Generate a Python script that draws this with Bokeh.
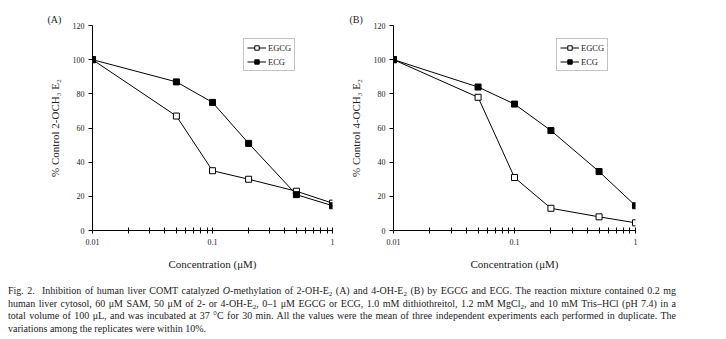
from bokeh.plotting import figure
from bokeh.models import (Range1d, FixedTicker, Legend, LegendItem, Div)
from bokeh.layouts import column, row
from bokeh.embed import file_html
from bokeh.resources import INLINE

conc = [0.01, 0.05, 0.1, 0.2, 0.5, 1.0]
a_egcg = [100, 67, 35, 30, 23, 16]
a_ecg = [100, 87, 75, 51, 21, 14.5]
b_egcg = [100, 78, 31, 13, 8, 4.5]
b_ecg = [100, 84, 74, 58.5, 34.5, 14.5]
y_ticks = [0, 20, 40, 60, 80, 100, 120]
x_major = [0.01, 0.1, 1.0]
x_minor = [0.02, 0.03, 0.04, 0.05, 0.06, 0.07, 0.08, 0.09,
           0.2, 0.3, 0.4, 0.5, 0.6, 0.7, 0.8, 0.9]
x_labels = {0.01: "0.01", 0.1: "0.1", 1: "1"}

FONT = "Liberation Serif"


def panel(tag, ylab, egcg, ecg, w, bl, br, leg_x, tag_off):
    p = figure(width=w, height=275, x_axis_type="log",
               x_range=Range1d(0.01, 1.0), y_range=Range1d(0, 120),
               output_backend="svg", toolbar_location=None,
               min_border_left=bl, min_border_right=br,
               min_border_top=25, min_border_bottom=45)
    p.outline_line_color = None
    p.xgrid.grid_line_color = None
    p.ygrid.grid_line_color = None
    p.background_fill_color = "white"
    p.border_fill_color = "white"

    p.title.text = tag
    p.title.align = "left"
    p.title.offset = tag_off
    p.title.standoff = 2
    p.title.text_font = FONT
    p.title.text_font_size = "10px"
    p.title.text_font_style = "normal"
    p.title.text_color = "#222222"

    xa = p.xaxis[0]
    xa.ticker = FixedTicker(ticks=x_major, minor_ticks=x_minor)
    xa.major_label_overrides = x_labels
    xa.major_tick_in = 3
    xa.major_tick_out = 3
    xa.minor_tick_in = 3
    xa.minor_tick_out = 3
    xa.major_label_standoff = 5
    xa.axis_label = "Concentration (μM)"
    xa.axis_label_standoff = 10

    ya = p.yaxis[0]
    ya.ticker = FixedTicker(ticks=y_ticks, minor_ticks=[])
    ya.major_tick_in = 0
    ya.major_tick_out = 4
    ya.major_label_standoff = 4
    ya.axis_label = ylab
    ya.axis_label_standoff = 9

    for ax in (xa, ya):
        ax.axis_line_color = "black"
        ax.major_tick_line_color = "black"
        ax.minor_tick_line_color = "black"
        ax.major_label_text_font = FONT
        ax.major_label_text_font_size = "8px"
        ax.major_label_text_color = "#222222"
        ax.axis_label_text_font = FONT
        ax.axis_label_text_font_size = "11px"
        ax.axis_label_text_font_style = "normal"
        ax.axis_label_text_color = "#222222"

    l1 = p.line(conc, egcg, line_color="black", line_width=1)
    s1 = p.scatter(conc, egcg, marker="square", size=6, fill_color="white",
                   line_color="black", line_width=1)
    l2 = p.line(conc, ecg, line_color="black", line_width=1)
    s2 = p.scatter(conc, ecg, marker="square", size=6, fill_color="black",
                   line_color="black", line_width=1)

    leg = Legend(items=[LegendItem(label="EGCG", renderers=[l1, s1]),
                        LegendItem(label="ECG", renderers=[l2, s2])],
                 location=(leg_x, 159), orientation="vertical")
    leg.label_text_font = FONT
    leg.label_text_font_size = "8.5px"
    leg.label_text_color = "#222222"
    leg.glyph_width = 19
    leg.glyph_height = 11
    leg.label_height = 11
    leg.label_standoff = 2
    leg.spacing = 3
    leg.padding = 3
    leg.margin = 0
    leg.border_line_color = "#888888"
    leg.border_line_width = 1
    leg.background_fill_alpha = 1
    p.add_layout(leg, "center")
    return p


pa = panel("(A)", "% Control 2-OCH₃ E₂", a_egcg, a_ecg, 345, 92, 13, 151, -45)
pb = panel("(B)", "% Control 4-OCH₃ E₂", b_egcg, b_ecg, 381, 48, 91, 163, -44)

line_style = ("white-space:nowrap; text-align:justify; text-align-last:justify; "
              "width:668px; height:12.5px; overflow:visible;")
sub = '<sub style="line-height:0; font-size:7px; vertical-align:-2px;">2</sub>'
cap = (
    f'<div style="{line_style}">Fig. 2.&nbsp; Inhibition of human liver COMT catalyzed '
    f'<i>O</i>-methylation of 2-OH-E{sub} (A) and 4-OH-E{sub} (B) by EGCG and ECG. '
    'The reaction mixture contained 0.2 mg</div>'
    f'<div style="{line_style}">human liver cytosol, 60 μM SAM, 50 μM of 2- or 4-OH-E{sub}, '
    f'0–1 μM EGCG or ECG, 1.0 mM dithiothreitol, 1.2 mM MgCl{sub}, and 10 mM Tris–HCl (pH 7.4) in a</div>'
    f'<div style="{line_style}">total volume of 100 μL, and was incubated at 37 °C for 30 min. '
    'All the values were the mean of three independent experiments each performed in duplicate. The</div>'
    '<div style="white-space:nowrap; height:12.5px;">variations among the replicates were within 10%.</div>'
)
div = Div(text=cap, width=700, height=52, margin=(10, 0, 0, 8),
          styles={"font-family": FONT, "font-size": "10px",
                  "line-height": "12.5px", "color": "#222222"})

layout = column(row(pa, pb, spacing=0), div, spacing=0)
open("out.html", "w").write(file_html(layout, INLINE))
